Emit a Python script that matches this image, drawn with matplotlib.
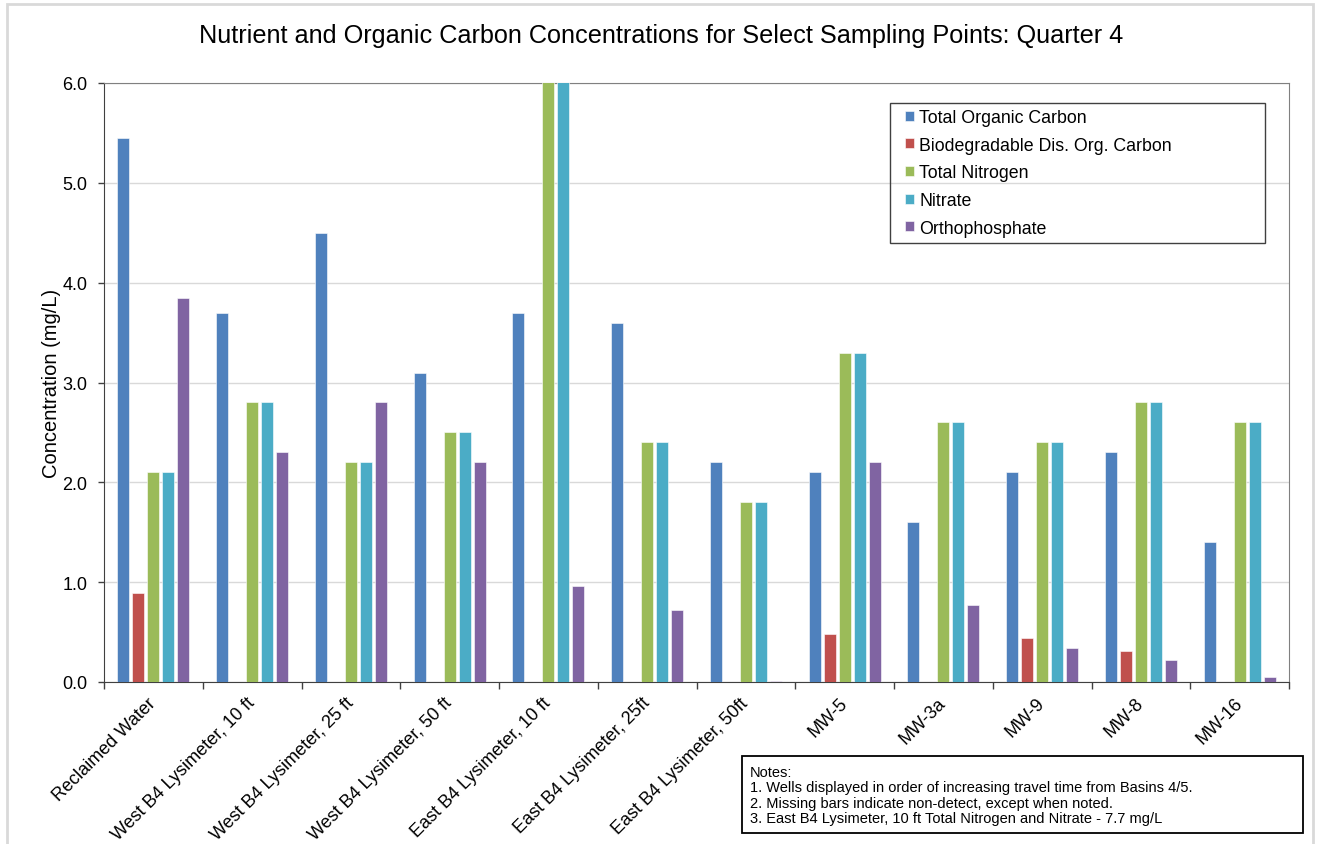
import numpy as np
import matplotlib
matplotlib.use("Agg")
import matplotlib.pyplot as plt
from matplotlib.patches import Rectangle

plt.rcParams['font.family'] = ['Liberation Sans', 'DejaVu Sans']

categories = ["Reclaimed Water", "West B4 Lysimeter, 10 ft", "West B4 Lysimeter, 25 ft",
              "West B4 Lysimeter, 50 ft", "East B4 Lysimeter, 10 ft", "East B4 Lysimeter, 25ft",
              "East B4 Lysimeter, 50ft", "MW-5", "MW-3a", "MW-9", "MW-8", "MW-16"]

nan = np.nan
total_organic_carbon = [5.45, 3.7, 4.5, 3.1, 3.7, 3.6, 2.2, 2.1, 1.6, 2.1, 2.3, 1.4]
biodegradable_doc = [0.89, nan, nan, nan, nan, nan, nan, 0.48, nan, 0.44, 0.31, nan]
total_nitrogen = [2.1, 2.8, 2.2, 2.5, 7.7, 2.4, 1.8, 3.3, 2.6, 2.4, 2.8, 2.6]
nitrate = [2.1, 2.8, 2.2, 2.5, 7.7, 2.4, 1.8, 3.3, 2.6, 2.4, 2.8, 2.6]
orthophosphate = [3.85, 2.3, 2.8, 2.2, 0.96, 0.72, 0.01, 2.2, 0.77, 0.34, 0.22, 0.05]

series = [
    ("Total Organic Carbon", total_organic_carbon, "#4F81BD"),
    ("Biodegradable Dis. Org. Carbon", biodegradable_doc, "#C0504D"),
    ("Total Nitrogen", total_nitrogen, "#9BBB59"),
    ("Nitrate", nitrate, "#4BACC6"),
    ("Orthophosphate", orthophosphate, "#8064A2"),
]

W, H = 1317, 845
AX_L, AX_R, AX_T, AX_B = 104, 1289, 84, 683
fig = plt.figure(figsize=(W / 100, H / 100), dpi=100)
ax = fig.add_axes([AX_L / W, 1 - AX_B / H, (AX_R - AX_L) / W, (AX_B - AX_T) / H])

x = np.arange(len(categories))
slot = 0.152
bw = 0.122
for i, (name, vals, col) in enumerate(series):
    ax.bar(x + (i - 2) * slot, vals, width=bw, color=col, label=name,
           edgecolor="white", linewidth=0.4, zorder=3)

ax.set_xlim(-0.5, len(categories) - 0.5)
ax.set_ylim(0, 6)
ax.set_yticks(np.arange(0, 7, 1))
ax.set_yticklabels([f"{v:.1f}" for v in range(7)], fontsize=13)
ax.yaxis.grid(True, color="#d9d9d9", linewidth=1, zorder=0)
ax.tick_params(axis="y", length=4, width=1, color="#404040", pad=8)

ax.set_xticks(x)
ax.set_xticklabels(categories, fontsize=13, rotation=45, ha="right",
                   va="center", rotation_mode="anchor")
ax.tick_params(axis="x", length=0, pad=13)
ax.set_xticks(np.arange(-0.5, len(categories), 1), minor=True)
ax.tick_params(axis="x", which="minor", length=5, width=1, color="#404040")

for side in ["left", "bottom"]:
    ax.spines[side].set_color("#404040")
for side in ["top", "right"]:
    ax.spines[side].set_color("#808080")

ax.set_ylabel("Concentration (mg/L)", fontsize=14.5)
ax.yaxis.set_label_coords((61 - AX_L) / (AX_R - AX_L), 0.5)

fig.text(661 / W, 1 - 36 / H,
         "Nutrient and Organic Carbon Concentrations for Select Sampling Points: Quarter 4",
         ha="center", va="center", fontsize=18.2)

# legend entries, with a fixed-size frame drawn around them
leg = ax.legend(loc="upper left",
                bbox_to_anchor=((905 - AX_L) / (AX_R - AX_L), (AX_B - 110) / (AX_B - AX_T)),
                frameon=False, fontsize=12.8, handlelength=0.5, handleheight=0.5,
                handletextpad=0.3, labelspacing=0.6, borderpad=0, borderaxespad=0)
fig.patches.append(Rectangle((890 / W, 1 - 244 / H), (1265 - 890) / W, (244 - 104) / H,
                             transform=fig.transFigure, fill=False,
                             edgecolor="#404040", linewidth=1, zorder=5))

notes = ("Notes:\n"
         "1. Wells displayed in order of increasing travel time from Basins 4/5.\n"
         "2. Missing bars indicate non-detect, except when noted.\n"
         "3. East B4 Lysimeter, 10 ft Total Nitrogen and Nitrate - 7.7 mg/L")
fig.patches.append(Rectangle((742 / W, 1 - 834 / H), (1303 - 742) / W, (834 - 757) / H,
                             transform=fig.transFigure, fill=False,
                             edgecolor="black", linewidth=1.3))
fig.text(750 / W, 1 - 766 / H, notes, ha="left", va="top", fontsize=10.5,
         linespacing=1.12)

fig.patches.append(Rectangle((7 / W, -0.05), (1313 - 7) / W, 1 - 5 / H + 0.05,
                             transform=fig.transFigure, fill=False,
                             edgecolor="#d9d9d9", linewidth=2))

fig.savefig("out.png", dpi=100)
